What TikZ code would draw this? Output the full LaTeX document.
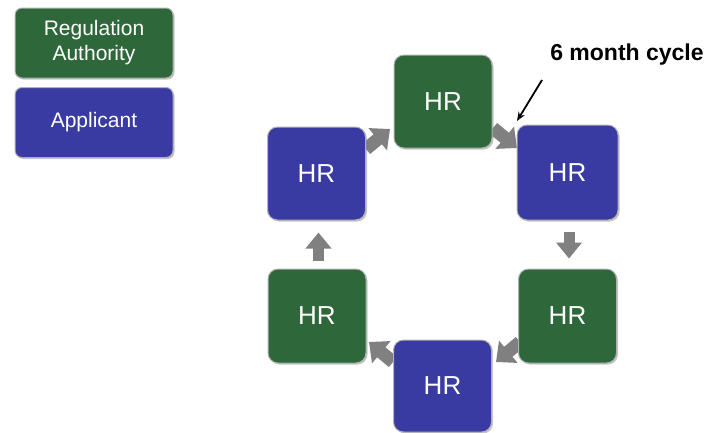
\documentclass[tikz,border=0pt]{standalone}
\usepackage{fontspec}
\setmainfont{Liberation Sans}
\usetikzlibrary{arrows.meta,shadows}

\definecolor{raGreen}{RGB}{46,104,58}
\definecolor{apBlue}{RGB}{58,58,163}
\definecolor{flowGray}{RGB}{128,128,128}

\tikzset{
  box/.style={rounded corners=10pt, draw=black!30, line width=1pt,
    text=white, align=center, inner sep=0pt,
    drop shadow={shadow xshift=1.5pt, shadow yshift=-1.5pt, opacity=0.45}},
  hrbox/.style={box, minimum width=98pt, minimum height=93pt, font=\fontsize{26}{30}\selectfont},
  legendbox/.style={box, rounded corners=7pt, minimum width=158pt, minimum height=70pt,
    font=\fontsize{21}{25}\selectfont},
  authority/.style={fill=raGreen},
  applicant/.style={fill=apBlue},
  flow/.style={line width=11pt, color=flowGray,
    -{Triangle[width=25pt,length=16pt]}},
  diagflow/.style={line width=13pt, color=flowGray,
    -{Triangle[width=28pt,length=16pt]}},
  pointer/.style={line width=1.8pt, -{Stealth[length=9pt,width=7pt]}}
}

\begin{document}
\begin{tikzpicture}[x=1pt,y=-1pt]
\useasboundingbox (0,0) rectangle (712,432);

% legend
\node[legendbox, authority] (legA) at (94,43) {Regulation\\Authority};
\node[legendbox, applicant] (legB) at (94,122.5) {Applicant};

% end points of the diagonal block arrows
\coordinate (d1s) at (366,149);
\coordinate (d1e) at (390,129);
\coordinate (d2s) at (493,128);
\coordinate (d2e) at (517,148);
\coordinate (d3s) at (520,342);
\coordinate (d3e) at (496,362);
\coordinate (d4s) at (393,362);
\coordinate (d4e) at (369,342);

% block arrows of the cycle (drawn below the boxes)
\draw[diagflow] (d1s) -- (d1e);
\draw[diagflow] (d2s) -- (d2e);
\draw[diagflow] (d3s) -- (d3e);
\draw[diagflow] (d4s) -- (d4e);

% cycle boxes
\node[hrbox, authority] (T)  at (443,101.5) {HR};
\node[hrbox, applicant, minimum width=101pt, minimum height=95pt] (RB) at (567.5,172.5) {HR};
\node[hrbox, authority, minimum height=94pt] (RG) at (567.5,316) {HR};
\node[hrbox, applicant, minimum height=92pt] (B)  at (442.5,386) {HR};
\node[hrbox, authority, minimum height=94pt] (LG) at (317,316) {HR};
\node[hrbox, applicant] (LB) at (316.5,173.5) {HR};

% vertical block arrows
\draw[flow, shorten <=11pt, shorten >=10pt] ([xshift=1.5pt]RB.south) -- ([xshift=1.5pt]RG.north);
\draw[flow, shorten <=8pt, shorten >=12pt] ([xshift=1.5pt]LG.north) -- ([xshift=2pt]LB.south);

% cycle label
\node[font=\bfseries\fontsize{23}{26}\selectfont, inner sep=0pt] (lbl) at (627,55) {6 month cycle};
\coordinate (pt) at (517,121);
\draw[pointer] (542,80) -- (pt);
\end{tikzpicture}
\end{document}
